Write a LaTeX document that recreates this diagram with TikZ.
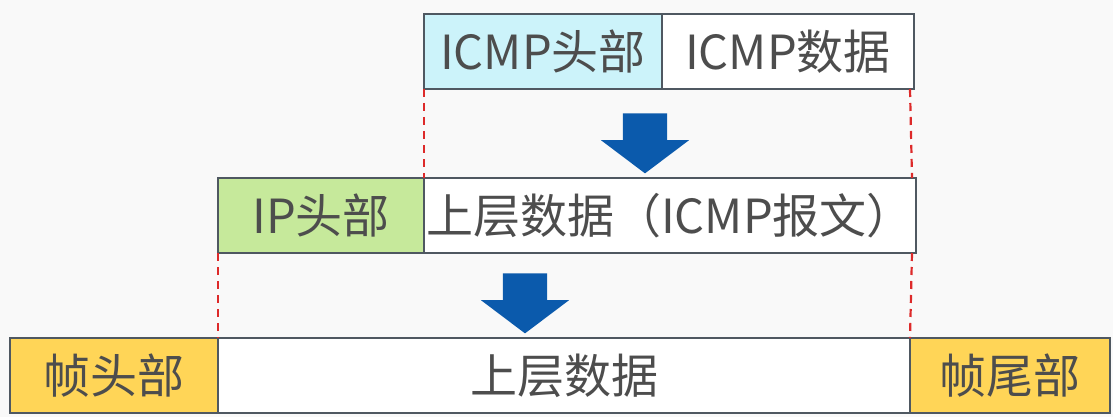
\documentclass[tikz,border=0pt]{standalone}
\usepackage{fontspec}
\setmainfont{Noto Sans CJK SC}
\usetikzlibrary{shapes.arrows}

\definecolor{bggray}{HTML}{F9F9F9}
\definecolor{framegray}{HTML}{4F5861}
\definecolor{textgray}{HTML}{4D4D4D}
\definecolor{icmpcyan}{HTML}{CCF3FA}
\definecolor{ipgreen}{HTML}{C6E99B}
\definecolor{frameyellow}{HTML}{FFD557}
\definecolor{arrowblue}{HTML}{0B5AAC}
\definecolor{guidered}{HTML}{DD2A2A}

\begin{document}
\begin{tikzpicture}[
    x=1pt, y=-1pt,
    font=\fontsize{47}{52}\selectfont,
    field/.style={
        draw=framegray,
        fill=white,
        line width=1.4pt,
        text=textgray,
        minimum height=75pt,
        inner sep=0pt,
        outer sep=0pt,
        anchor=north west
    },
    guide/.style={
        draw=guidered,
        dash pattern=on 8pt off 6pt,
        line width=2.2pt
    },
    downarrow/.style={
        single arrow,
        fill=arrowblue,
        rotate=-90,
        inner sep=0pt,
        text width=0pt,
        text height=22pt,
        text depth=22pt,
        minimum height=60pt,
        single arrow head extend=22pt,
        single arrow tip angle=106
    }
]
\useasboundingbox[fill=bggray] (0,0) rectangle (1113,417);

% ICMP message
\node[field, fill=icmpcyan, minimum width=238pt] (icmphead) at (424,14) {ICMP头部};
\node[field, minimum width=252pt, anchor=west] (icmpdata) at (icmphead.east) {ICMP数据};

% IP packet
\node[field, fill=ipgreen, minimum width=206pt] (iphead) at (218,178) {IP头部};
\node[field, minimum width=492pt, anchor=west] (ipdata) at (iphead.east) {上层数据（ICMP报文）};

% Frame
\node[field, fill=frameyellow, minimum width=208pt] (framehead) at (10,338) {帧头部};
\node[field, minimum width=692pt, anchor=west] (framedata) at (framehead.east) {上层数据};
\node[field, fill=frameyellow, minimum width=200pt, anchor=west] (frametail) at (framedata.east) {帧尾部};

% Arrows
\node[downarrow] (arrow1) at (645,135) {};
\node[downarrow] (arrow2) at (525,295) {};

% Guides
\draw[guide] (icmphead.south west) -- (ipdata.north west);
\draw[guide] ([xshift=-4pt]icmpdata.south east) -- ([xshift=-4pt]ipdata.north east);
\draw[guide] (iphead.south west) -- (framehead.north east);
\draw[guide] ([xshift=-4pt]ipdata.south east) -- (framedata.north east);

\end{tikzpicture}
\end{document}
